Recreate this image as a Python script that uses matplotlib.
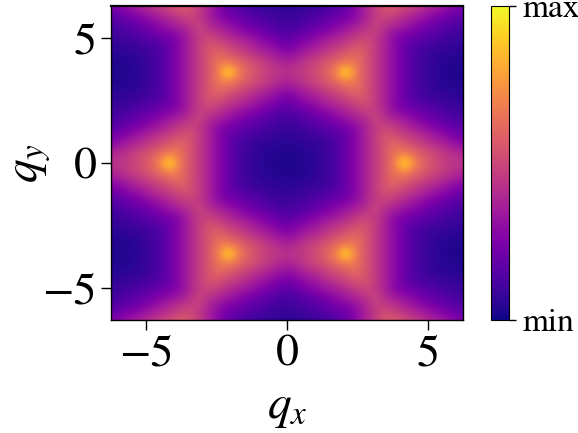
import numpy as np
import matplotlib
matplotlib.use('Agg')
import matplotlib.pyplot as plt

plt.rcParams['font.family'] = ['STIXGeneral', 'Liberation Serif']
plt.rcParams['mathtext.fontset'] = 'stix'

# grid spacing of the values (quadrant qx>=0, qy>=0)
dqx = 0.349
dqy = 0.363

# one row per qy, one value per qx, by eye from the colours
row00 = [.03,.03,.04,.06,.09,.13,.20,.28,.37,.46,.55,.68,1.0,.70,.59,.52,.47,.44,.43]
row01 = [.03,.03,.04,.06,.09,.13,.20,.28,.37,.46,.55,.66,.70,.62,.56,.51,.46,.42,.39]
row02 = [.04,.05,.06,.07,.09,.13,.20,.28,.37,.46,.55,.62,.57,.52,.47,.42,.38,.33,.30]
row03 = [.06,.07,.08,.10,.12,.15,.20,.28,.37,.46,.55,.53,.48,.44,.39,.34,.31,.25,.22]
row04 = [.08,.10,.12,.15,.17,.21,.24,.29,.37,.46,.49,.45,.40,.35,.31,.26,.22,.18,.16]
row05 = [.11,.13,.16,.19,.23,.28,.32,.37,.41,.50,.41,.37,.32,.28,.23,.19,.16,.13,.11]
row06 = [.16,.19,.23,.28,.32,.35,.40,.45,.49,.46,.37,.28,.24,.21,.17,.15,.12,.10,.08]
row07 = [.22,.26,.31,.34,.40,.44,.48,.53,.55,.46,.37,.28,.20,.14,.12,.10,.08,.07,.06]
row08 = [.30,.33,.38,.42,.47,.52,.57,.62,.55,.46,.37,.28,.20,.13,.10,.07,.06,.05,.04]
row09 = [.37,.41,.46,.51,.56,.62,.68,.66,.55,.46,.37,.28,.20,.13,.09,.06,.04,.03,.03]
row10 = [.43,.44,.47,.52,.59,.70,1.0,.68,.55,.46,.37,.28,.20,.13,.09,.06,.04,.03,.03]
row11 = [.37,.41,.46,.51,.56,.62,.68,.66,.55,.46,.37,.28,.20,.13,.09,.06,.04,.03,.03]
row12 = [.30,.33,.38,.42,.47,.52,.57,.62,.55,.46,.37,.28,.20,.13,.10,.07,.06,.05,.04]
row13 = [.22,.26,.31,.34,.40,.44,.48,.53,.55,.46,.37,.28,.20,.14,.12,.10,.08,.07,.06]
row14 = [.16,.19,.23,.28,.32,.35,.40,.45,.49,.46,.37,.28,.24,.21,.17,.15,.12,.10,.08]
row15 = [.11,.13,.16,.19,.23,.28,.32,.37,.41,.50,.41,.37,.32,.28,.23,.19,.16,.13,.11]
row16 = [.08,.10,.12,.15,.17,.21,.24,.29,.37,.46,.49,.45,.40,.35,.31,.26,.22,.18,.16]
row17 = [.06,.07,.08,.10,.12,.15,.20,.28,.37,.46,.55,.53,.48,.44,.39,.34,.31,.25,.22]
row18 = [.04,.05,.06,.07,.09,.13,.20,.28,.37,.46,.55,.62,.57,.52,.47,.42,.38,.33,.30]

rows = [row00, row01, row02, row03, row04, row05, row06, row07, row08, row09,
        row10, row11, row12, row13, row14, row15, row16, row17, row18]

quad = np.array(rows)
# picture is mirror symmetric in both axes
right = np.vstack([quad[:0:-1], quad])
Z = np.hstack([right[:, :0:-1], right])

xmax = 18.5 * dqx
ymax = 18.5 * dqy

fig = plt.figure(figsize=(5.78, 4.33), dpi=100)
ax = fig.add_axes([111/578, 1 - 320/433, 352/578, 314/433])
im = ax.imshow(Z, origin='lower', extent=[-xmax, xmax, -ymax, ymax], aspect='auto',
               cmap='plasma', vmin=0, vmax=1, interpolation='bicubic')
ax.set_xlim(-6.26, 6.26)
ax.set_ylim(-6.28, 6.28)
ax.set_xticks([-5, 0, 5])
ax.set_yticks([-5, 0, 5])
ax.tick_params(labelsize=33, length=7, width=1.0)
ax.set_xlabel(r'$q_x$', fontsize=34, labelpad=8)
ax.set_ylabel(r'$q_y$', fontsize=34, labelpad=-8)
for s in ax.spines.values():
    s.set_linewidth(1.0)
ax.spines['top'].set_linewidth(1.6)

cax = fig.add_axes([491/578, 1 - 320/433, 18/578, 314/433])
cb = fig.colorbar(im, cax=cax, ticks=[0, 1])
cb.ax.set_yticklabels(['min', 'max'])
cb.ax.tick_params(labelsize=24, length=5, width=1.0, pad=5)

fig.savefig('out.png', dpi=100)
